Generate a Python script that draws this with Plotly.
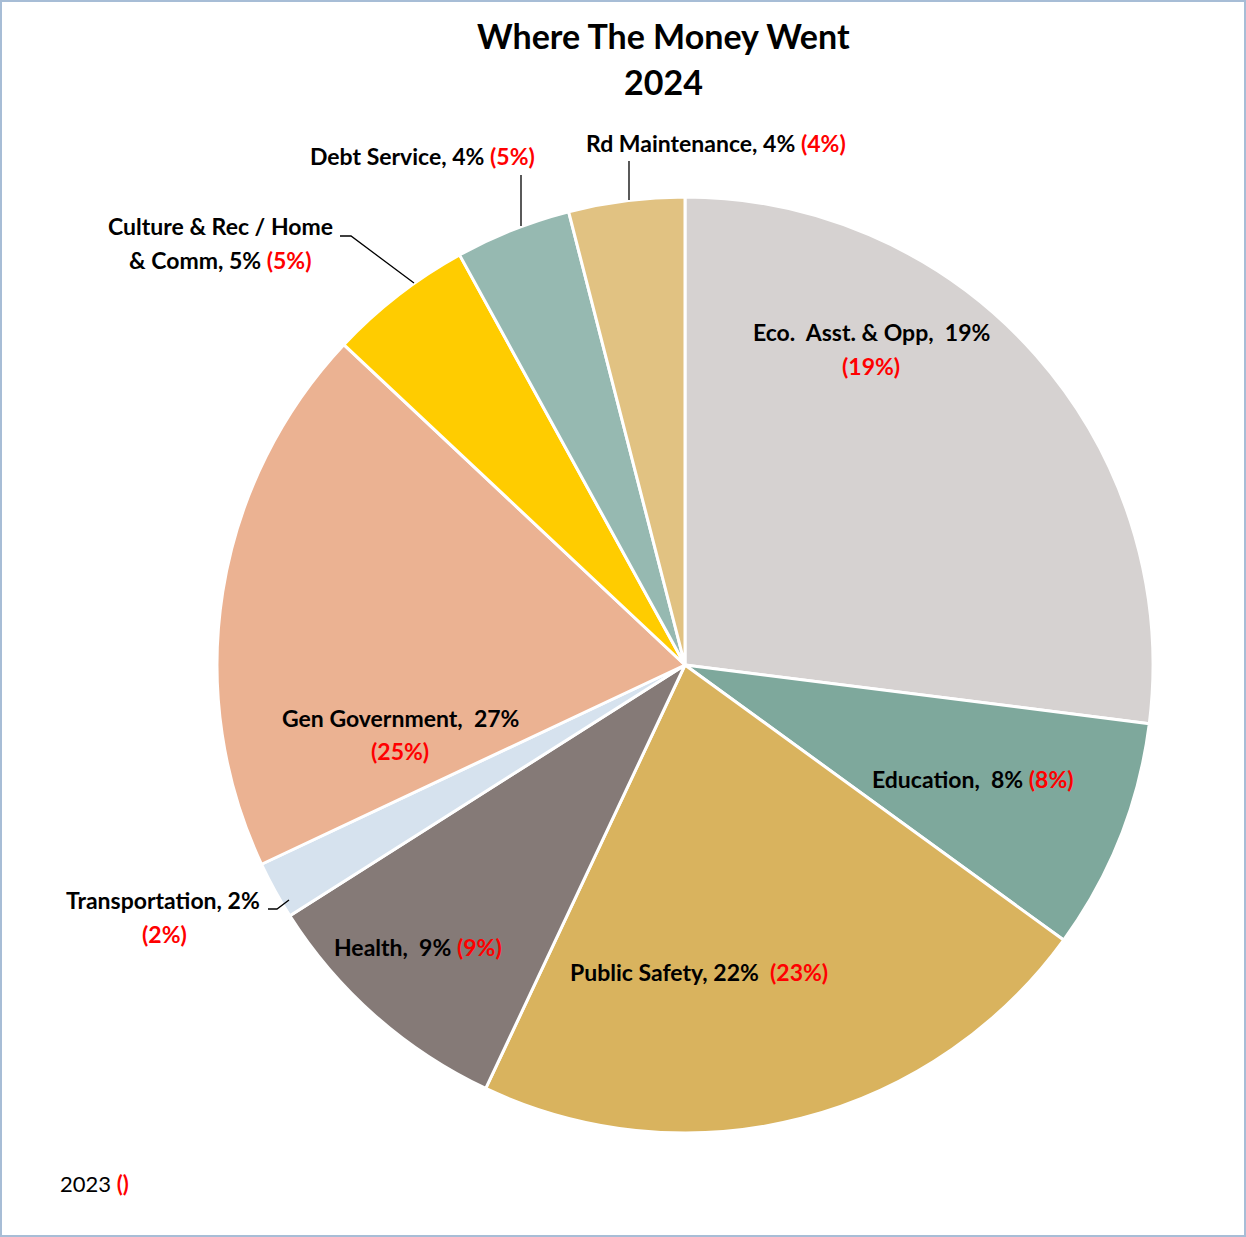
import plotly.graph_objects as go

W, H = 1246, 1237

categories = ["Eco. Asst. & Opp", "Education", "Public Safety", "Health", "Transportation",
              "Gen Government", "Culture & Rec / Home & Comm", "Debt Service", "Rd Maintenance"]
values = [27, 8, 22, 9, 2, 19, 5, 4, 4]
colors = ["#D6D2D1", "#7EA89C", "#D9B35E", "#857A77", "#D6E2EE",
          "#EBB292", "#FFCC00", "#96B9B1", "#E1C282"]
# label texts as printed on the chart (2024 share, 2023 share in red)
label_2024 = ["19%", "8%", "22%", "9%", "2%", "27%", "5%", "4%", "4%"]
label_2023 = ["19%", "8%", "23%", "9%", "2%", "25%", "5%", "5%", "4%"]

def px(x, y):
    return x / W, 1 - y / H

cx, cy, r = 685, 665, 468
x0, y1 = px(cx - r, cy - r)
x1, y0 = px(cx + r, cy + r)

fig = go.Figure(go.Pie(
    labels=categories, values=values, sort=False, direction="clockwise", rotation=0,
    marker=dict(colors=colors, line=dict(color="white", width=3)),
    textinfo="none", hoverinfo="label+percent", showlegend=False,
    domain=dict(x=[x0, x1], y=[y0, y1]),
))

FONT = "Lato"
FS = 23
RED = "#FF0000"

def red(s):
    return f"<span style='color:{RED}'><b>({s})</b></span>"

ann = []
def add(text, x, y, size=FS, xanchor="center", bold=True):
    ax, ay = px(x, y)
    ann.append(dict(text=f"<b>{text}</b>" if bold else text, x=ax, y=ay, xref="paper", yref="paper",
                    xanchor=xanchor, yanchor="middle", showarrow=False,
                    font=dict(family=FONT, size=size, color="black")))

# title
add("Where The Money Went", 663, 35, size=34)
add("2024", 663, 82, size=34)

i = {c: k for k, c in enumerate(categories)}
k = i["Eco. Asst. & Opp"]
add(f"Eco.  Asst. & Opp,  {label_2024[k]}", 871, 332)
add(red(label_2023[k]), 871, 366)
k = i["Education"]
add(f"Education,  {label_2024[k]} {red(label_2023[k])}", 973, 779)
k = i["Public Safety"]
add(f"Public Safety, {label_2024[k]}  {red(label_2023[k])}", 699, 972)
k = i["Health"]
add(f"Health,  {label_2024[k]} {red(label_2023[k])}", 418, 947)
k = i["Transportation"]
add(f"Transportation, {label_2024[k]}", 163, 900)
add(red(label_2023[k]), 164, 934)
k = i["Gen Government"]
add(f"Gen Government,  {label_2024[k]}", 400, 718)
add(red(label_2023[k]), 400, 751)
k = i["Culture & Rec / Home & Comm"]
add("Culture & Rec / Home", 220, 226)
add(f"& Comm, {label_2024[k]} {red(label_2023[k])}", 220, 260)
k = i["Debt Service"]
add(f"Debt Service, {label_2024[k]} {red(label_2023[k])}", 422, 156)
k = i["Rd Maintenance"]
add(f"Rd Maintenance, {label_2024[k]} {red(label_2023[k])}", 716, 143)

# bottom-left note
ax_, ay_ = px(58, 1183)
ann.append(dict(text=f"2023 <span style='color:{RED}'><b>()</b></span>", x=ax_, y=ay_,
                xref="paper", yref="paper", xanchor="left", yanchor="middle", showarrow=False,
                font=dict(family=FONT, size=22, color="black")))

def path(points):
    d = ""
    for n, (x, y) in enumerate(points):
        X, Y = px(x, y)
        d += ("M" if n == 0 else "L") + f"{X},{Y} "
    return dict(type="path", path=d.strip(), xref="paper", yref="paper",
                line=dict(color="black", width=1.3))

shapes = [
    path([(629, 161), (629, 200)]),
    path([(521, 175), (521, 226)]),
    path([(340, 236), (351, 236), (414, 283)]),
    path([(268, 909), (277, 909), (289, 900)]),
    dict(type="rect", xref="paper", yref="paper", x0=0.0008, y0=0.0008, x1=0.9992, y1=0.9992,
         line=dict(color="#A7BDD6", width=2)),
]

fig.update_layout(
    width=W, height=H, margin=dict(l=0, r=0, t=0, b=0),
    paper_bgcolor="white", plot_bgcolor="white",
    annotations=ann, shapes=shapes,
)

fig.write_html("out.html")
